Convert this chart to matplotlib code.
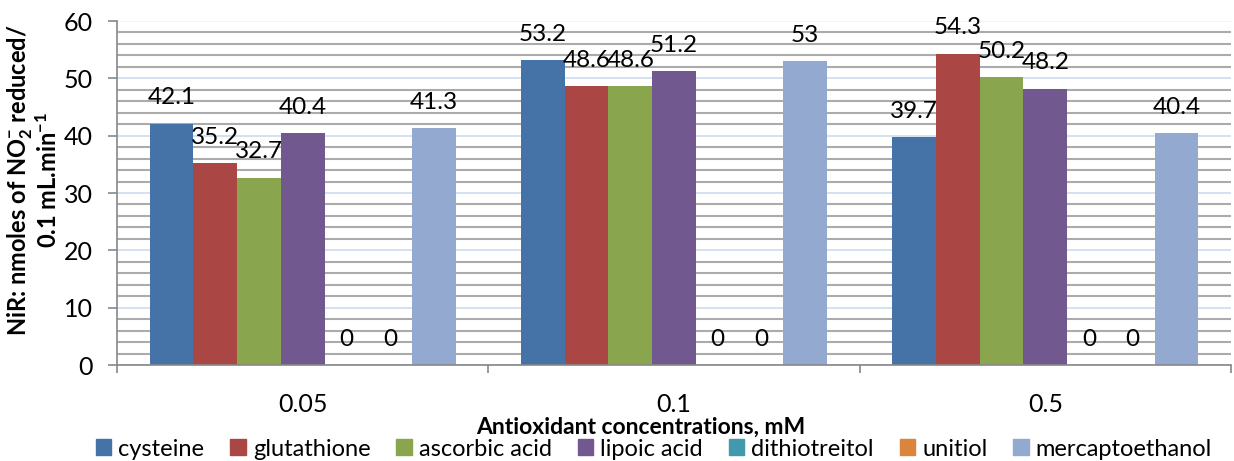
import numpy as np
import matplotlib
matplotlib.use("Agg")
import matplotlib.pyplot as plt
from matplotlib.patches import Patch

plt.rcParams['font.family'] = ['Lato', 'DejaVu Sans']
plt.rcParams['mathtext.fontset'] = 'custom'
plt.rcParams['mathtext.rm'] = 'Lato'
plt.rcParams['mathtext.bf'] = 'Lato:bold'
plt.rcParams['mathtext.default'] = 'bf'

# data
concs = ["0.05", "0.1", "0.5"]
series = ["cysteine", "glutathione", "ascorbic acid", "lipoic acid",
          "dithiotreitol", "unitiol", "mercaptoethanol"]
cysteine = [42.1, 53.2, 39.7]
glutathione = [35.2, 48.6, 54.3]
ascorbic = [32.7, 48.6, 50.2]
lipoic = [40.4, 51.2, 48.2]
dithiotreitol = [0, 0, 0]
unitiol = [0, 0, 0]
mercapto = [41.3, 53, 40.4]
values = [cysteine, glutathione, ascorbic, lipoic, dithiotreitol, unitiol, mercapto]
colors = ["#4572a7", "#aa4643", "#89a54e", "#71588f", "#4198af", "#db843d", "#93a9cf"]

fs = 18
fig = plt.figure(figsize=(12.34, 4.61), dpi=100)
ax = fig.add_axes([117 / 1234, 1 - 365 / 461, (1231 - 117) / 1234, (365 - 21) / 461])

x = np.arange(len(concs))
w = 1 / 8.5
for j, (vals, c) in enumerate(zip(values, colors)):
    pos = x + (j - 3) * w
    ax.bar(pos, vals, w, color=c, zorder=3)
    for px, v in zip(pos, vals):
        ax.annotate(f"{v:g}", (px, v), xytext=(0, 14), textcoords="offset points",
                    ha="center", va="baseline", fontsize=17.5, zorder=4)

ax.set_xlim(-0.5, 2.5)
ax.set_ylim(0, 60)

# gridlines: gray every 2, light blue every 10
ax.set_yticks(np.arange(0, 61, 10))
ax.set_yticks(np.arange(0, 61, 2), minor=True)
ax.yaxis.grid(True, which="minor", color="#ababab", lw=1.5, zorder=0)
ax.yaxis.grid(True, which="major", color="#c8d8ec", lw=1.1, zorder=1)
ax.get_ygridlines()[-1].set_color("#eef3f9")
ax.tick_params(axis="y", which="minor", length=0)
ax.tick_params(axis="y", which="major", length=6.5, width=1.2, color="#878787",
               labelsize=fs, pad=11)

ax.set_xticks([-0.5, 0.5, 1.5, 2.5])
ax.set_xticklabels([])
ax.set_xticks(x, minor=True)
ax.set_xticklabels(concs, minor=True)
ax.tick_params(axis="x", which="major", length=6, width=1.2, color="#878787")
ax.tick_params(axis="x", which="minor", length=0, labelsize=fs, pad=20)

for s in ["top", "right"]:
    ax.spines[s].set_visible(False)
for s in ["left", "bottom"]:
    ax.spines[s].set_color("#878787")
    ax.spines[s].set_linewidth(1.2)
    ax.spines[s].set_zorder(5)

fig.text(641 / 1234, 1 - 434 / 461, "Antioxidant concentrations, mM",
         ha="center", va="baseline", fontsize=16.5, fontweight="bold")
fig.text(33 / 1234, 1 - 180 / 461,
         "NiR: nmoles of N$O_2^{-}$ reduced/\n0.1 mL.min$^{-1}$",
         ha="center", va="center", rotation=90, fontsize=17, fontweight="bold",
         linespacing=1.0, multialignment="center")

handles = [Patch(color=c, label=s) for s, c in zip(series, colors)]
fig.legend(handles=handles, loc="center", bbox_to_anchor=(654 / 1234, 1 - 449 / 461),
           ncol=7, frameon=False, fontsize=17, handlelength=0.65, handleheight=0.65,
           handletextpad=0.3, columnspacing=1.1, borderpad=0, borderaxespad=0)

fig.savefig("out.png", dpi=100)
